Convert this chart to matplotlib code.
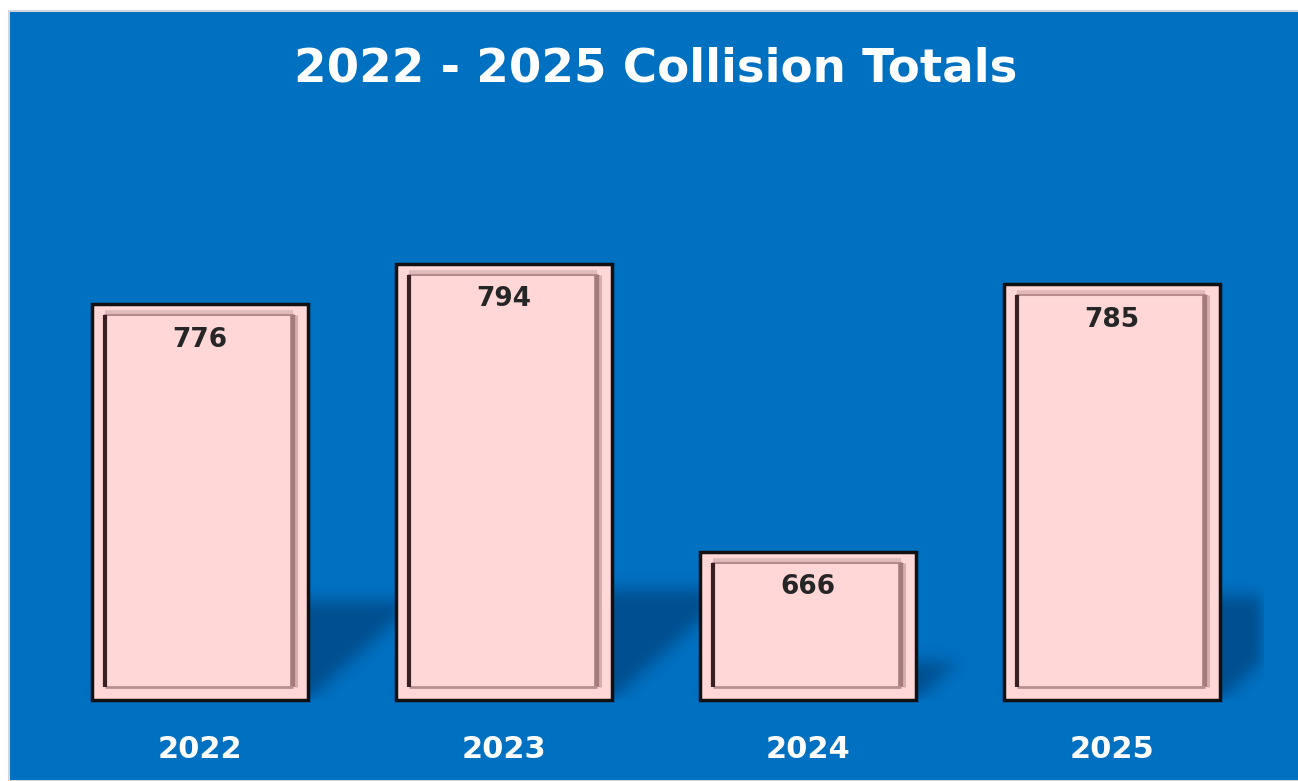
import numpy as np
import matplotlib
matplotlib.use("Agg")
import matplotlib.pyplot as plt
from matplotlib.patches import Rectangle

# Collision counts per year
years = ["2022", "2023", "2024", "2025"]
collisions = [776, 794, 666, 785]
title = "2022 - 2025 Collision Totals"

BLUE = "#0070C0"
BAR_FACE = "#FFD7D7"
Y_MIN, Y_MAX = 600, 850

W_PX, H_PX = 1298, 781
fig = plt.figure(figsize=(W_PX / 100, H_PX / 100), dpi=100)
fig.patch.set_facecolor("white")

# blue chart panel with thin grey frame
panel = Rectangle((9 / W_PX, 0), 1 - 9 / W_PX + 0.01, 1 - 11 / H_PX,
                  transform=fig.transFigure, facecolor=BLUE,
                  edgecolor="#CFD5DB", linewidth=1.5, zorder=-10)
fig.patches.append(panel)

ax_l, ax_b, ax_w, ax_h = 48, 81, 1216, 562
ax = fig.add_axes([ax_l / W_PX, ax_b / H_PX, ax_w / W_PX, ax_h / H_PX])
ax.set_zorder(1)
ax.set_facecolor("none")
for s in ax.spines.values():
    s.set_visible(False)
ax.set_xlim(-0.5, len(years) - 0.5)
ax.set_ylim(Y_MIN, Y_MAX)
ax.set_yticks([])

x = np.arange(len(years))
vals = np.array(collisions, dtype=float)
bar_w = 0.71

# pixel <-> data helpers
px_x = (len(years)) / ax_w
px_y = (Y_MAX - Y_MIN) / ax_h

# soft floor shadow cast behind each bar
yy, xx = np.mgrid[0:ax_h, 0:ax_w]
mask = np.zeros((ax_h, ax_w))
for xi, v in zip(x, vals):
    left = (xi - bar_w / 2 + 0.5) / px_x
    right = (xi + bar_w / 2 + 0.5) / px_x
    h = (v - Y_MIN) / px_y
    top = 0.25 * h
    d = yy.astype(float)
    inside = (d <= top) & (xx >= left + 1.1 * d) & (xx <= right + 1.1 * d)
    mask[inside] = 1.0

def box_blur(a, r):
    k = np.ones(2 * r + 1) / (2 * r + 1)
    a = np.apply_along_axis(lambda m: np.convolve(m, k, mode="same"), 0, a)
    a = np.apply_along_axis(lambda m: np.convolve(m, k, mode="same"), 1, a)
    return a

for _ in range(3):
    mask = box_blur(mask, 7)

shadow = np.zeros((ax_h, ax_w, 4))
shadow[..., 0] = 0.0
shadow[..., 1] = 0.12
shadow[..., 2] = 0.28
shadow[..., 3] = 0.40 * mask
ax.imshow(shadow, extent=(-0.5, len(years) - 0.5, Y_MIN, Y_MAX), origin="lower",
          aspect="auto", interpolation="bilinear", zorder=1)

bars = ax.bar(x, vals - Y_MIN, bottom=Y_MIN, width=bar_w, color=BAR_FACE,
              edgecolor="#111111", linewidth=2.5, zorder=2, clip_on=False)

# bevelled inner frame on each bar
ins_l, ins_r, ins_t, ins_b = 13, 15, 11, 13
for xi, v in zip(x, vals):
    l = xi - bar_w / 2 + ins_l * px_x
    r = xi + bar_w / 2 - ins_r * px_x
    t = v - ins_t * px_y
    b = Y_MIN + ins_b * px_y
    ax.plot([l, r], [t + 2 * px_y, t + 2 * px_y], color="#E2B9B9", lw=4,
            solid_capstyle="butt", zorder=3, clip_on=False)
    ax.plot([l, r], [t, t], color="#B88C8C", lw=1.5, zorder=3, clip_on=False)
    ax.plot([r, r], [b, t], color="#A47A7A", lw=4,
            solid_capstyle="butt", zorder=3, clip_on=False)
    ax.plot([r + 3 * px_x, r + 3 * px_x], [b, t], color="#D6ABAB", lw=2,
            solid_capstyle="butt", zorder=3, clip_on=False)
    ax.plot([l, r], [b, b], color="#B98F8F", lw=2,
            solid_capstyle="butt", zorder=3, clip_on=False)
    ax.plot([l, l], [b, t], color="#3A2020", lw=3,
            solid_capstyle="butt", zorder=4, clip_on=False)

# value labels just inside the top of each bar
for xi, v in zip(x, collisions):
    ax.annotate(f"{v}", xy=(xi, v), xytext=(0, -25.5), textcoords="offset points",
                ha="center", va="center", fontsize=19, fontweight="bold",
                color="#262626", zorder=5)

ax.set_xticks(x)
ax.set_xticklabels(years, fontsize=22, fontweight="bold", color="white")
ax.tick_params(axis="x", length=0, pad=25)

fig.text(656 / W_PX, 1 - 69 / H_PX, title, ha="center", va="center",
         fontsize=33.7, fontweight="bold", color="white")

fig.savefig("out.png", dpi=100, facecolor=fig.get_facecolor())
